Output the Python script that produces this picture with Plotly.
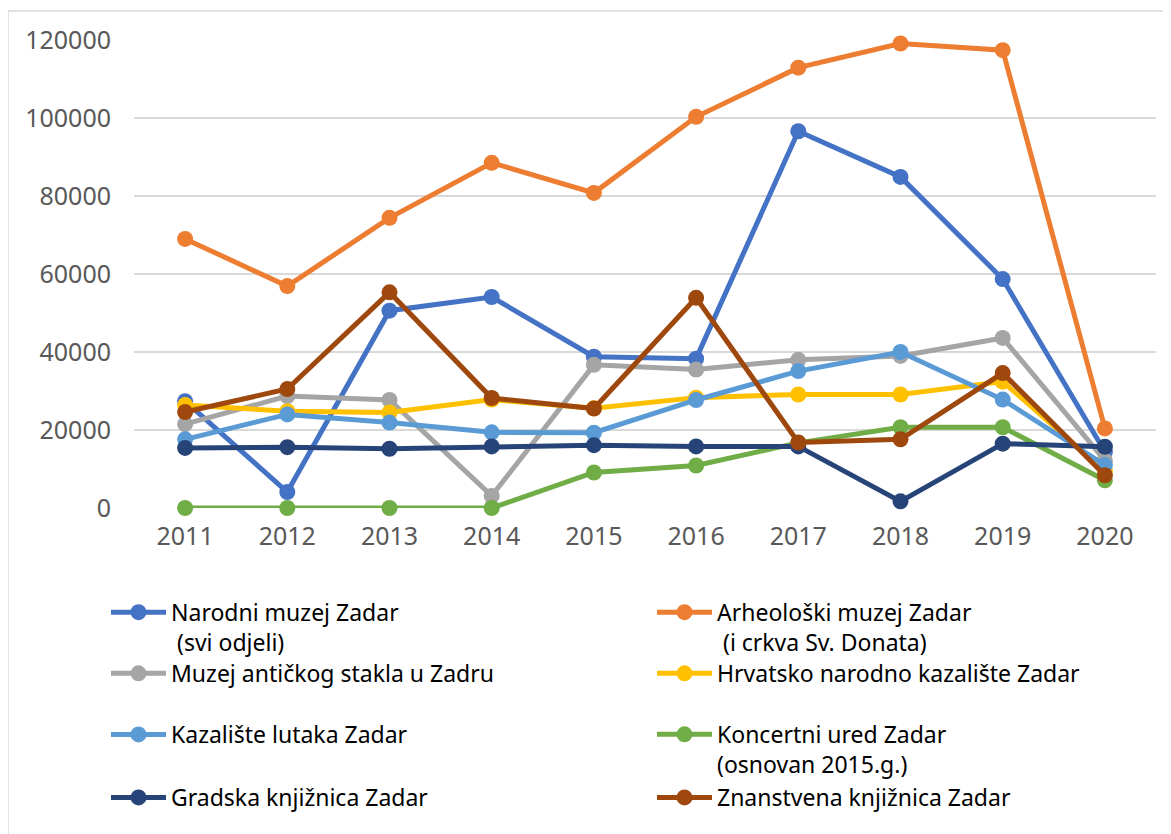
import plotly.graph_objects as go

years = ["2011", "2012", "2013", "2014", "2015", "2016", "2017", "2018", "2019", "2020"]

narodni_muzej = [27400, 4100, 50600, 54100, 38800, 38300, 96600, 84900, 58700, 14400]
arheoloski_muzej = [69000, 56900, 74400, 88500, 80800, 100300, 112900, 119100, 117400, 20400]
muzej_stakla = [21500, 28700, 27700, 3100, 36700, 35500, 38000, 39000, 43600, 12200]
hnk_zadar = [26400, 24800, 24500, 27800, 25600, 28300, 29100, 29100, 32400, 9500]
kazaliste_lutaka = [17600, 24000, 21900, 19400, 19300, 27700, 35100, 40000, 27800, 11000]
koncertni_ured = [0, 0, 0, 0, 9100, 10900, 16700, 20700, 20700, 7100]
gradska_knjiznica = [15400, 15600, 15200, 15800, 16100, 15800, 15800, 1700, 16500, 15700]
znanstvena_knjiznica = [24600, 30500, 55300, 28200, 25500, 53900, 16800, 17600, 34600, 8400]

series_names = [
    "Narodni muzej Zadar<br>\u00a0(svi odjeli)",
    "Arheološki muzej Zadar<br>\u00a0(i crkva Sv. Donata)",
    "Muzej antičkog stakla u Zadru",
    "Hrvatsko narodno kazalište Zadar",
    "Kazalište lutaka Zadar",
    "Koncertni ured Zadar<br>(osnovan 2015.g.)",
    "Gradska knjižnica Zadar",
    "Znanstvena knjižnica Zadar",
]
series_values = [narodni_muzej, arheoloski_muzej, muzej_stakla, hnk_zadar,
                 kazaliste_lutaka, koncertni_ured, gradska_knjiznica, znanstvena_knjiznica]
colors = ["#4472C4", "#ED7D31", "#A5A5A5", "#FFC000", "#5B9BD5", "#70AD47", "#264478", "#9E480E"]
y_ticks = [0, 20000, 40000, 60000, 80000, 100000, 120000]

W, H = 1171, 834
OFF = 8  # page body margin offset
# target positions in screenshot pixels
plot_left, plot_right = 134 - OFF, 1156 - OFF
plot_top, plot_bottom = 40 - OFF, 507.7 - OFF
pw = plot_right - plot_left
ph = plot_bottom - plot_top

FONT = "Noto Sans"

def px2paper_x(px):
    return (px - OFF - plot_left) / pw

def px2paper_y(py):
    return (plot_bottom - (py - OFF)) / ph

# legend placement (screenshot pixel positions of legend box left and first-line centre)
col_x = [106, 652]
row_y = [612, 673, 734, 797]

fig = go.Figure()
layout_legends = {}
for i, (name, vals, col) in enumerate(zip(series_names, series_values, colors)):
    key = "legend" if i == 0 else f"legend{i + 1}"
    multiline = "<br>" in name
    label = ("\u00a0<br>" + name) if multiline else name
    fig.add_trace(go.Scatter(
        x=years, y=vals, name=label, mode="lines+markers",
        line=dict(color=col, width=5),
        marker=dict(color=col, size=16),
        cliponaxis=False,
        legend=key,
    ))
    r, c = divmod(i, 2)
    layout_legends[key] = dict(
        x=px2paper_x(col_x[c]), y=px2paper_y(row_y[r]),
        xanchor="left", yanchor="middle",
        orientation="v", bgcolor="rgba(0,0,0,0)", borderwidth=0,
        itemwidth=55, font=dict(family=FONT, size=23, color="#000000"),
        itemclick=False, itemdoubleclick=False,
    )

fig.update_layout(
    width=W, height=H,
    margin=dict(l=plot_left, r=W - plot_right, t=plot_top, b=H - plot_bottom,
                autoexpand=False),
    paper_bgcolor="white", plot_bgcolor="white",
    showlegend=True,
    font=dict(family=FONT, size=22, color="#595959"),
    xaxis=dict(
        type="category", range=[-0.5, len(years) - 0.5],
        showgrid=False, zeroline=False, showline=False,
        ticks="outside", ticklen=6, tickcolor="rgba(0,0,0,0)",
        tickfont=dict(family=FONT, size=25, color="#595959"),
        fixedrange=True, automargin=False,
    ),
    yaxis=dict(
        range=[0, 120000], tickvals=y_ticks, ticktext=[str(v) for v in y_ticks],
        showgrid=True, gridcolor="#D9D9D9", gridwidth=1.5,
        zeroline=False, showline=False,
        ticks="outside", ticklen=17, tickcolor="rgba(0,0,0,0)",
        tickfont=dict(family=FONT, size=25, color="#595959"),
        fixedrange=True, automargin=False,
    ),
    shapes=[dict(
        type="rect", xref="paper", yref="paper",
        x0=px2paper_x(8), x1=px2paper_x(1200),
        y0=px2paper_y(860), y1=px2paper_y(11),
        line=dict(color="#D9D9D9", width=1.5), fillcolor="rgba(0,0,0,0)",
        layer="below",
    )],
    **layout_legends,
)

fig.write_html("out.html")
